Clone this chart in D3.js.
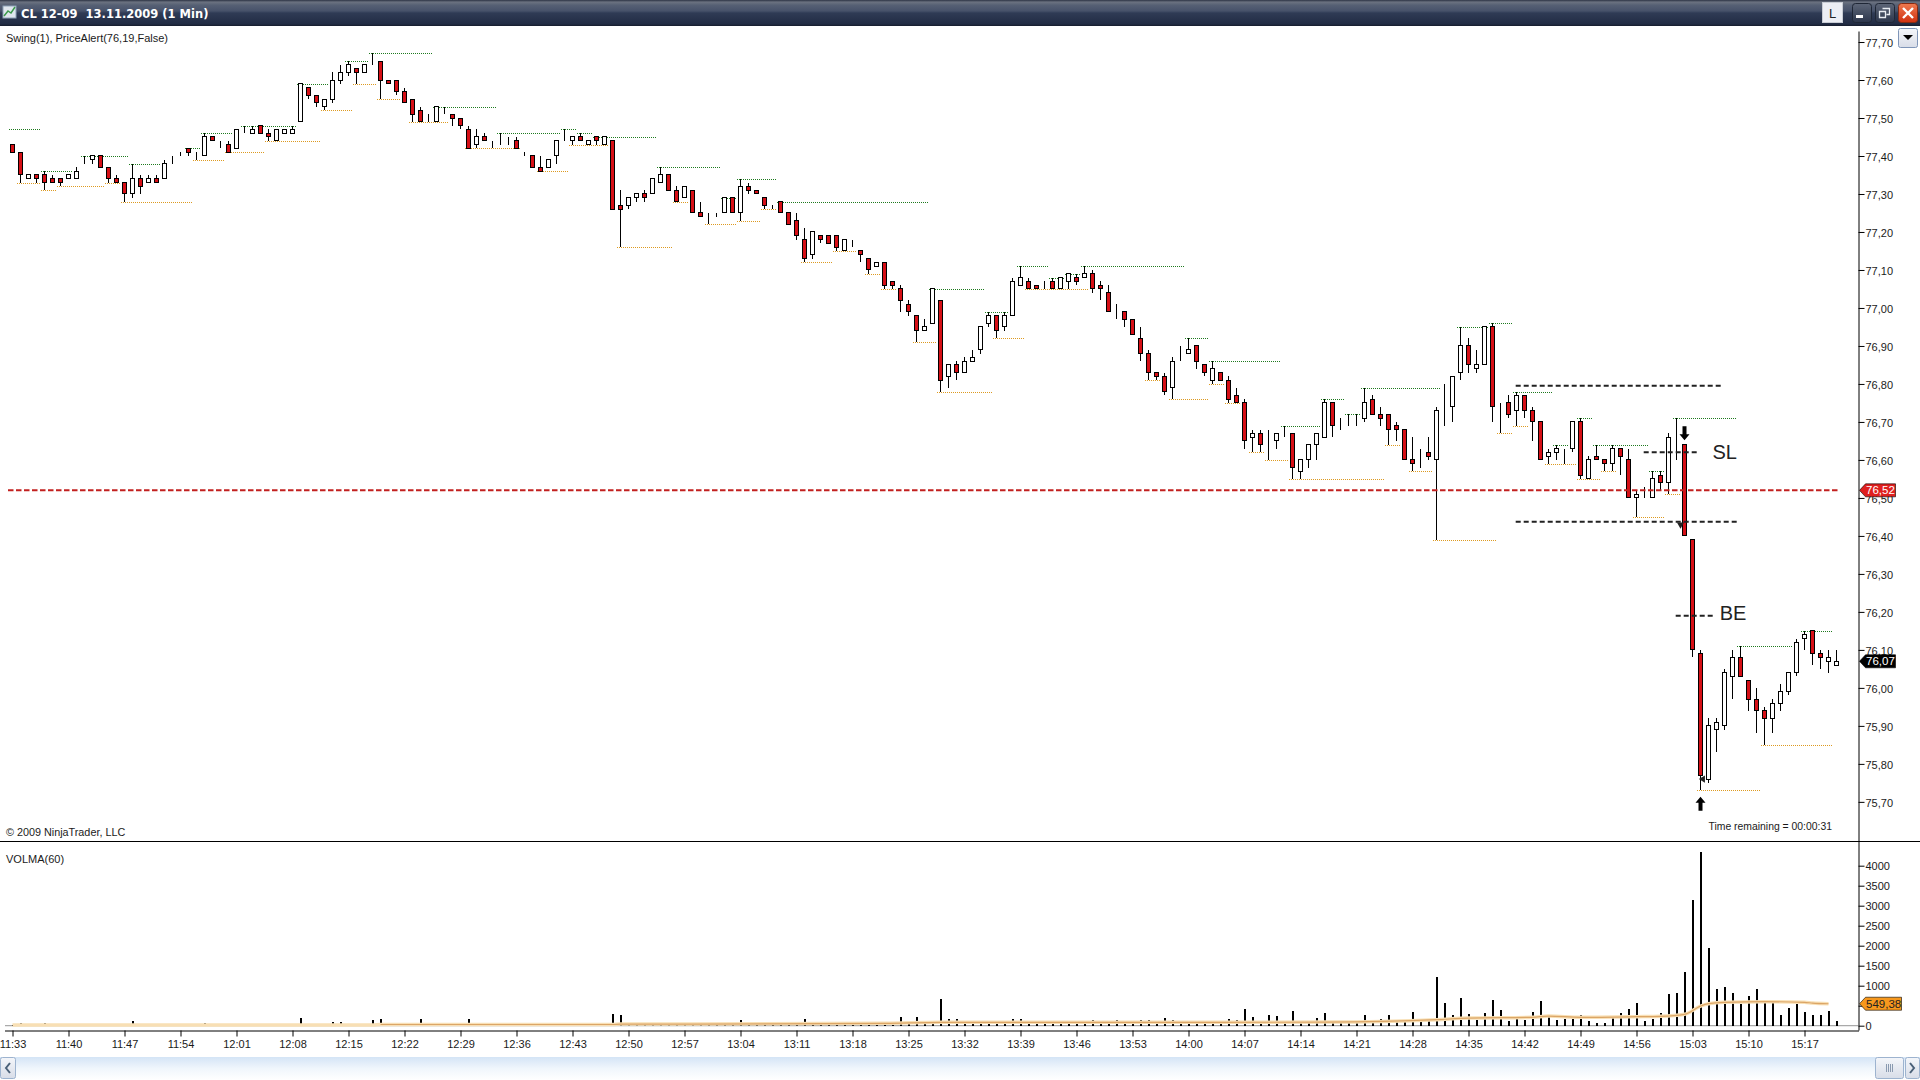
<!DOCTYPE html>
<html lang="en">
<head>
  <meta charset="UTF-8">
  <title>CL 12-09 1 Min</title>
  <script src="https://d3js.org/d3.v7.min.js"></script>
  <style>
    html, body { margin: 0; padding: 0; background: #fff; overflow: hidden; }
    svg { display: block; }
    text { font-family: "Liberation Sans", Arial, sans-serif; }
    .axis text { font-size: 11px; fill: #1a1a1a; font-family: "Liberation Sans", Arial, sans-serif; }
    .axis path, .axis line { stroke: #000; }
  </style>
</head>
<body>
<svg id="chart" width="1920" height="1080"></svg>
<script>
  const tickLabels = ["11:33","11:40","11:47","11:54","12:01","12:08","12:15","12:22","12:29","12:36","12:43","12:50","12:57","13:04","13:11","13:18","13:25","13:32","13:39","13:46","13:53","14:00","14:07","14:14","14:21","14:28","14:35","14:42","14:49","14:56","15:03","15:10","15:17"];
  const priceTicks = [77.7,77.6,77.5,77.4,77.3,77.2,77.1,77.0,76.9,76.8,76.7,76.6,76.5,76.4,76.3,76.2,76.1,76.0,75.9,75.8,75.7];
  const volumeTicks = [0,500,1000,1500,2000,2500,3000,3500,4000];

  const opens = [
    77.43,77.41,77.34,77.35,77.35,77.34,77.34,77.34,77.34,77.38,
    77.39,77.40,77.37,77.34,77.33,77.30,77.34,77.33,77.34,77.34,
    77.39,77.41,77.42,77.41,77.40,77.45,77.43,77.43,77.42,77.46,
    77.46,77.48,77.46,77.44,77.46,77.46,77.49,77.58,77.56,77.53,
    77.55,77.60,77.62,77.63,77.62,77.65,77.65,77.60,77.60,77.57,
    77.55,77.52,77.49,77.49,77.52,77.51,77.50,77.47,77.43,77.45,
    77.43,77.45,77.44,77.44,77.41,77.40,77.37,77.37,77.40,77.45,
    77.44,77.45,77.43,77.45,77.43,77.44,77.27,77.27,77.29,77.30,
    77.30,77.33,77.35,77.31,77.29,77.31,77.25,77.24,77.24,77.25,
    77.29,77.25,77.32,77.31,77.29,77.27,77.28,77.25,77.23,77.18,
    77.14,77.19,77.19,77.19,77.15,77.17,77.15,77.13,77.11,77.12,
    77.07,77.05,77.01,76.98,76.94,76.96,77.02,76.82,76.85,76.83,
    76.86,76.89,76.96,76.98,76.95,76.98,77.06,77.07,77.06,77.05,
    77.07,77.05,77.07,77.08,77.08,77.09,77.06,77.04,76.99,76.99,
    76.97,76.92,76.88,76.83,76.82,76.79,76.87,76.88,76.90,76.85,
    76.81,76.83,76.81,76.77,76.75,76.66,76.67,76.65,76.65,76.67,
    76.67,76.57,76.60,76.64,76.66,76.75,76.68,76.70,76.70,76.71,
    76.76,76.72,76.72,76.69,76.68,76.60,76.60,76.62,76.60,76.73,
    76.74,76.83,76.90,76.84,76.85,76.95,76.74,76.75,76.73,76.77,
    76.73,76.70,76.61,76.62,76.63,76.63,76.70,76.55,76.61,76.60,
    76.59,76.63,76.60,76.50,76.51,76.50,76.56,76.54,76.64,76.64,
    76.39,76.09,75.76,75.89,75.90,76.03,76.08,76.02,75.97,75.94,
    75.92,75.96,75.99,76.04,76.13,76.15,76.09,76.07,76.06
  ];
  const closes = [
    77.41,77.35,77.35,77.34,77.33,77.33,77.33,77.35,77.36,77.38,
    77.40,77.37,77.34,77.33,77.30,77.34,77.32,77.34,77.33,77.38,
    77.39,77.41,77.41,77.41,77.45,77.44,77.43,77.41,77.47,77.46,
    77.47,77.46,77.45,77.47,77.47,77.47,77.59,77.56,77.54,77.55,
    77.60,77.62,77.64,77.62,77.64,77.65,77.60,77.59,77.57,77.54,
    77.51,77.49,77.49,77.53,77.52,77.50,77.48,77.42,77.45,77.44,
    77.43,77.45,77.44,77.42,77.41,77.37,77.36,77.39,77.44,77.45,
    77.45,77.44,77.44,77.44,77.45,77.26,77.26,77.29,77.30,77.29,
    77.34,77.35,77.31,77.28,77.32,77.25,77.24,77.24,77.24,77.29,
    77.25,77.32,77.31,77.30,77.27,77.27,77.25,77.22,77.19,77.13,
    77.20,77.18,77.17,77.16,77.18,77.17,77.14,77.10,77.12,77.06,
    77.06,77.02,76.99,76.94,76.95,77.05,76.81,76.85,76.83,76.86,
    76.87,76.95,76.98,76.94,76.98,77.07,77.08,77.05,77.05,77.05,
    77.05,77.08,77.09,77.07,77.09,77.05,77.05,76.99,76.99,76.97,
    76.93,76.88,76.83,76.82,76.78,76.86,76.87,76.89,76.86,76.83,
    76.84,76.81,76.76,76.75,76.65,76.67,76.64,76.65,76.67,76.67,
    76.58,76.60,76.64,76.67,76.75,76.69,76.68,76.70,76.70,76.75,
    76.72,76.71,76.68,76.68,76.60,76.59,76.60,76.61,76.73,76.73,
    76.82,76.90,76.85,76.85,76.95,76.74,76.74,76.72,76.77,76.73,
    76.70,76.60,76.62,76.63,76.63,76.70,76.56,76.60,76.60,76.59,
    76.63,76.61,76.50,76.51,76.51,76.55,76.54,76.66,76.64,76.40,
    76.10,75.77,75.90,75.91,76.04,76.08,76.03,75.97,75.94,75.92,
    75.96,75.99,76.04,76.12,76.14,76.09,76.08,76.08,76.07
  ];
  const highs = [
    77.43,77.41,77.35,77.35,77.36,77.35,77.34,77.35,77.37,77.40,
    77.40,77.40,77.37,77.35,77.33,77.38,77.35,77.35,77.35,77.39,
    77.40,77.41,77.42,77.41,77.46,77.45,77.44,77.44,77.47,77.48,
    77.48,77.48,77.47,77.47,77.47,77.48,77.59,77.58,77.56,77.55,
    77.62,77.64,77.65,77.63,77.64,77.67,77.65,77.60,77.60,77.58,
    77.55,77.53,77.51,77.53,77.53,77.51,77.50,77.48,77.47,77.46,
    77.44,77.46,77.45,77.45,77.41,77.40,77.40,77.39,77.44,77.47,
    77.45,77.46,77.44,77.45,77.45,77.44,77.31,77.29,77.30,77.31,
    77.34,77.37,77.35,77.32,77.32,77.31,77.28,77.25,77.25,77.29,
    77.29,77.34,77.33,77.31,77.29,77.27,77.28,77.25,77.25,77.21,
    77.20,77.19,77.19,77.19,77.18,77.18,77.15,77.13,77.12,77.12,
    77.07,77.06,77.02,76.98,76.97,77.05,77.02,76.85,76.86,76.87,
    76.89,76.95,76.99,76.98,76.99,77.08,77.11,77.08,77.06,77.07,
    77.08,77.08,77.09,77.09,77.11,77.10,77.07,77.06,77.01,76.99,
    76.97,76.95,76.89,76.83,76.83,76.87,76.90,76.92,76.90,76.85,
    76.86,76.83,76.82,76.79,76.76,76.68,76.68,76.68,76.67,76.69,
    76.67,76.60,76.64,76.67,76.76,76.75,76.71,76.72,76.72,76.79,
    76.77,76.74,76.72,76.70,76.68,76.66,76.63,76.66,76.74,76.80,
    76.82,76.95,76.92,76.89,76.95,76.96,76.75,76.77,76.78,76.77,
    76.74,76.70,76.63,76.64,76.63,76.70,76.71,76.61,76.64,76.60,
    76.64,76.63,76.63,76.52,76.53,76.57,76.57,76.67,76.71,76.64,
    76.39,76.10,75.92,75.92,76.05,76.10,76.11,76.02,76.00,75.95,
    75.97,76.01,76.04,76.13,76.15,76.15,76.10,76.10,76.10
  ];
  const lows = [
    77.41,77.33,77.34,77.33,77.31,77.33,77.32,77.34,77.34,77.38,
    77.38,77.37,77.33,77.33,77.28,77.29,77.30,77.33,77.33,77.34,
    77.38,77.40,77.40,77.39,77.40,77.44,77.42,77.41,77.42,77.46,
    77.46,77.46,77.44,77.44,77.46,77.46,77.49,77.55,77.53,77.52,
    77.54,77.59,77.61,77.59,77.62,77.64,77.55,77.59,77.56,77.54,
    77.49,77.49,77.49,77.49,77.51,77.48,77.47,77.42,77.42,77.44,
    77.42,77.43,77.43,77.42,77.40,77.37,77.36,77.37,77.38,77.44,
    77.43,77.44,77.43,77.43,77.43,77.26,77.16,77.26,77.28,77.28,
    77.30,77.33,77.31,77.28,77.29,77.25,77.24,77.22,77.24,77.25,
    77.25,77.23,77.30,77.30,77.26,77.26,77.25,77.22,77.18,77.12,
    77.13,77.17,77.17,77.15,77.15,77.16,77.12,77.09,77.11,77.05,
    77.05,76.99,76.98,76.91,76.94,76.96,76.78,76.79,76.81,76.83,
    76.86,76.88,76.95,76.92,76.94,76.98,77.06,77.05,77.05,77.05,
    77.05,77.05,77.05,77.06,77.08,77.04,77.02,76.99,76.97,76.95,
    76.93,76.86,76.81,76.81,76.77,76.76,76.86,76.88,76.84,76.82,
    76.80,76.81,76.75,76.75,76.63,76.62,76.62,76.60,76.63,76.66,
    76.55,76.55,76.58,76.60,76.66,76.66,76.68,76.69,76.69,76.70,
    76.72,76.69,76.64,76.65,76.60,76.57,76.58,76.60,76.39,76.69,
    76.70,76.81,76.83,76.83,76.85,76.70,76.67,76.71,76.69,76.71,
    76.65,76.60,76.59,76.60,76.59,76.62,76.55,76.55,76.60,76.57,
    76.57,76.56,76.50,76.45,76.50,76.50,76.52,76.51,76.60,76.40,
    76.08,75.73,75.75,75.83,75.89,75.97,76.03,75.94,75.88,75.85,
    75.88,75.94,75.98,76.03,76.10,76.06,76.05,76.04,76.06
  ];
  const volumes = [
    15,70,10,10,70,10,10,10,10,10,
    10,10,40,10,40,120,10,40,10,40,
    10,10,10,10,70,10,10,10,40,10,
    10,10,10,10,10,10,190,40,40,10,
    90,90,40,40,10,140,170,30,10,10,
    70,170,20,30,20,40,70,170,30,10,
    10,30,30,30,30,30,30,10,30,30,
    10,30,10,10,10,290,270,30,30,30,
    70,30,10,30,30,30,30,30,30,30,
    30,140,30,10,30,10,30,30,90,170,
    90,10,10,10,30,10,30,30,10,30,
    30,220,60,220,60,100,670,170,170,60,
    90,90,90,90,60,170,170,90,60,50,
    50,50,50,50,90,140,90,90,140,90,
    90,140,140,90,190,140,50,90,90,50,
    50,90,170,140,415,215,90,265,240,90,
    365,110,110,190,320,100,60,100,100,265,
    100,165,265,100,140,340,165,115,1215,565,
    265,690,290,140,315,640,390,115,165,140,
    340,615,215,140,165,165,265,115,65,65,
    190,315,415,565,115,165,315,790,815,1340,
    3140,4340,1940,915,965,815,540,740,915,590,
    565,265,440,540,340,265,265,365,115
  ];
  const maBars = [0,45,46,60,75,76,85,109,116,150,164,178,182,190,192,196,203,206,209,211,212,214,219,224,225,227];
  const maValues = [15,15,30,30,30,40,40,60,85,85,90,150,190,210,240,210,225,235,285,490,550,585,600,585,565,549];

  // swing lines: first bar, last bar, price
  const swingHighs = [
    [-1,3,77.47],[3,7,77.36],[8,14,77.40],[14,18,77.38],[21,23,77.42],[23,27,77.46],[28,35,77.48],[35,39,77.59],
    [41,44,77.65],[44,52,77.67],[52,60,77.53],[60,68,77.46],[68,70,77.47],[70,72,77.46],[72,80,77.45],[80,88,77.37],
    [88,90,77.29],[90,95,77.34],[95,114,77.28],[114,121,77.05],[121,124,76.99],[125,129,77.11],[129,131,77.08],
    [131,133,77.09],[133,146,77.11],[146,149,76.92],[149,158,76.86],[158,163,76.69],[163,166,76.76],[166,168,76.72],
    [168,178,76.79],[180,184,76.95],[184,187,76.96],[187,192,76.78],[192,194,76.64],[195,197,76.71],[197,204,76.64],
    [204,206,76.57],[207,215,76.71],[215,222,76.11],[223,227,76.15]
  ];
  const swingLows = [
    [0,3,77.33],[3,5,77.31],[5,11,77.32],[11,13,77.33],[13,22,77.28],[22,26,77.39],[26,31,77.41],[31,38,77.44],
    [38,42,77.52],[42,45,77.59],[45,48,77.55],[49,54,77.49],[56,63,77.42],[65,69,77.36],[69,74,77.43],[75,82,77.16],
    [82,84,77.28],[86,90,77.22],[90,93,77.23],[93,95,77.26],[98,102,77.12],[102,105,77.15],[106,108,77.09],
    [108,110,77.05],[112,115,76.91],[115,122,76.78],[122,126,76.92],[126,134,77.05],[141,143,76.81],[144,149,76.76],
    [149,151,76.80],[151,153,76.75],[154,156,76.62],[156,159,76.60],[159,171,76.55],[171,173,76.64],[174,177,76.57],
    [177,185,76.39],[185,187,76.67],[187,189,76.69],[191,195,76.59],[195,198,76.55],[198,200,76.57],[202,206,76.45],
    [206,208,76.51],[210,218,75.73],[218,227,75.85]
  ];
  const alertPrice = 76.52;
  const lastPrice = 76.07;
  const lastVolma = 549.38;

  // hand drawn levels: first bar, last bar, price
  const drawnLevels = [[187.9,213.8,76.795],[187.9,215.8,76.437],[203.9,210.8,76.62],[207.9,212.8,76.19]];
  const drawnLabels = [["SL",212.5,76.62],["BE",213.4,76.196]];
  const arrowBars = [209,211];
  const arrowPrices = [76.67,75.695];
  const arrowDirs = [1,-1];

  const svg = d3.select("#chart");
  const defs = svg.append("defs");

  function gradient(id, stops) {
    const g = defs.append("linearGradient").attr("id", id).attr("x1", 0).attr("y1", 0).attr("x2", 0).attr("y2", 1);
    stops.forEach(s => g.append("stop").attr("offset", s[0]).attr("stop-color", s[1]));
  }
  gradient("titleGrad", [[0,"#2c3344"],[0.08,"#6b7280"],[0.2,"#566074"],[0.42,"#47526a"],[0.5,"#2f3b55"],[0.92,"#222c44"],[1,"#161c2c"]]);
  gradient("scrollGrad", [[0,"#d4e4f6"],[0.5,"#f0f6fc"],[1,"#ffffff"]]);
  gradient("btnGrad", [[0,"#5d6678"],[1,"#2c364c"]]);
  gradient("closeGrad", [[0,"#ef7a50"],[1,"#d0300f"]]);
  gradient("greyBtn", [[0,"#f4f6fa"],[1,"#d8dde8"]]);

  // Scales
  const x = d3.scaleLinear().domain([-1, 230.75]).range([4.5, 1858.5]);
  const y = d3.scaleLinear().domain([77.729, 75.597]).range([31, 841]);
  const yVol = d3.scaleLinear().domain([4617.5, -107.5]).range([841, 1030]);

  // Title bar
  svg.append("rect").attr("width", 1920).attr("height", 26).attr("fill", "url(#titleGrad)");
  svg.append("rect").attr("x", 3).attr("y", 6).attr("width", 13).attr("height", 12).attr("fill", "#dfe6ee").attr("stroke", "#8fa3b8");
  svg.append("path").attr("d", "M4,16 L8,11 L11,13 L15,7").attr("fill", "none").attr("stroke", "#3a9a4a").attr("stroke-width", 1.5);
  svg.append("text").attr("x", 21).attr("y", 18).attr("fill", "#fff")
    .style("font-family", "'DejaVu Sans'").style("font-weight", "bold").style("font-size", "11.5px")
    .attr("xml:space", "preserve").text("CL 12-09  13.11.2009 (1 Min)");

  svg.append("rect").attr("x", 1822.5).attr("y", 2.5).attr("width", 20).attr("height", 20).attr("fill", "#eceef4").attr("stroke", "#c8ccd4");
  svg.append("text").attr("x", 1832.5).attr("y", 18).attr("text-anchor", "middle").attr("fill", "#222").style("font-size", "13px").text("L");
  [1852, 1875].forEach(bx => svg.append("rect").attr("x", bx + 0.5).attr("y", 3.5).attr("width", 19).attr("height", 19).attr("rx", 3).attr("fill", "url(#btnGrad)").attr("stroke", "#1f2736"));
  svg.append("rect").attr("x", 1856).attr("y", 15).attr("width", 7).attr("height", 3).attr("fill", "#fff");
  svg.append("path").attr("d", "M1882.5,8.5 h7 v6 h-3 M1879.5,11.5 h6 v6 h-6 z").attr("fill", "none").attr("stroke", "#e8ecf2").attr("stroke-width", 1.3);
  svg.append("rect").attr("x", 1898.5).attr("y", 3.5).attr("width", 19).attr("height", 19).attr("rx", 3).attr("fill", "url(#closeGrad)").attr("stroke", "#8a2a10");
  svg.append("path").attr("d", "M1903,8 L1913,18 M1913,8 L1903,18").attr("stroke", "#fff").attr("stroke-width", 2.4);
  svg.append("rect").attr("x", 1898.5).attr("y", 28.5).attr("width", 19).attr("height", 19).attr("rx", 2).attr("fill", "url(#greyBtn)").attr("stroke", "#7f95b8");
  svg.append("path").attr("d", "M1903,35 h10 l-5,5 z").attr("fill", "#000");

  // Swing lines
  const swing = svg.append("g").attr("shape-rendering", "crispEdges");
  function swingLines(rows, colour) {
    swing.selectAll(null)
      .data(rows)
      .enter().append("line")
      .attr("x1", d => x(d[0] + 0.6))
      .attr("x2", d => x(d[1] + 0.5))
      .attr("y1", d => Math.round(y(d[2])) + 0.5)
      .attr("y2", d => Math.round(y(d[2])) + 0.5)
      .attr("stroke", colour)
      .attr("stroke-dasharray", "1 1");
  }
  swingLines(swingHighs, "#1f7a1f");
  swingLines(swingLows, "#dd9a20");

  // Candles
  const candles = svg.append("g").attr("shape-rendering", "crispEdges");
  candles.selectAll("line.wick")
    .data(opens)
    .enter().append("line")
    .attr("class", "wick")
    .attr("x1", (d, i) => x(i))
    .attr("x2", (d, i) => x(i))
    .attr("y1", (d, i) => y(highs[i]))
    .attr("y2", (d, i) => y(lows[i]))
    .attr("stroke", "#000");
  candles.selectAll("rect.body")
    .data(opens)
    .enter().append("rect")
    .attr("class", "body")
    .attr("x", (d, i) => x(i) - 2)
    .attr("width", 4)
    .attr("y", (d, i) => y(Math.max(d, closes[i])))
    .attr("height", (d, i) => Math.abs(y(d) - y(closes[i])))
    .attr("fill", (d, i) => closes[i] < d ? "#d60f16" : "#fff")
    .attr("stroke", "#000");

  // Alert line
  svg.append("line")
    .attr("x1", 8).attr("x2", 1839)
    .attr("y1", y(alertPrice)).attr("y2", y(alertPrice))
    .attr("stroke", "#c2201f").attr("stroke-width", 2).attr("stroke-dasharray", "5.5 2.5");

  // Hand drawn levels and notes
  svg.selectAll("line.level")
    .data(drawnLevels)
    .enter().append("line")
    .attr("class", "level")
    .attr("x1", d => x(d[0]))
    .attr("x2", d => x(d[1]))
    .attr("y1", d => y(d[2]))
    .attr("y2", d => y(d[2]))
    .attr("stroke", "#222").attr("stroke-width", 2).attr("stroke-dasharray", "5 3");
  svg.selectAll("text.note")
    .data(drawnLabels)
    .enter().append("text")
    .attr("class", "note")
    .attr("x", d => x(d[1]))
    .attr("y", d => y(d[2]) + 7)
    .attr("fill", "#222")
    .style("font-size", "20px")
    .text(d => d[0]);
  svg.selectAll("path.arrow")
    .data(arrowBars)
    .enter().append("path")
    .attr("class", "arrow")
    .attr("d", "M-2,-7 h4 v8 h3 l-5,6 l-5,-6 h3 z")
    .attr("transform", (d, i) => `translate(${x(d)},${y(arrowPrices[i])}) scale(1,${arrowDirs[i]})`)
    .attr("fill", "#000");
  svg.append("path").attr("d", d3.symbol(d3.symbolTriangle, 22))
    .attr("transform", `translate(${x(211.3)},${y(75.76)}) rotate(-90)`).attr("fill", "#222");
  svg.append("path").attr("d", d3.symbol(d3.symbolTriangle, 22))
    .attr("transform", `translate(${x(208.5)},${y(76.43)}) rotate(180)`).attr("fill", "#222");

  // Price axis
  const priceFmt = d => d.toFixed(2).replace(".", ",");
  const priceAxis = svg.append("g").attr("class", "axis").attr("transform", "translate(1858.5,0)")
    .call(d3.axisRight(y).tickValues(priceTicks).tickFormat(priceFmt).tickSize(6).tickPadding(1).tickSizeOuter(0));
  priceAxis.selectAll("text").attr("dy", "0.4em");

  // Pane separator
  svg.append("line").attr("x1", 0).attr("x2", 1920).attr("y1", 841.5).attr("y2", 841.5).attr("stroke", "#000");

  // Volume pane
  svg.append("line").attr("x1", 5).attr("x2", 1858).attr("y1", yVol(0)).attr("y2", yVol(0)).attr("stroke", "#aaa").attr("stroke-width", 1.2);
  svg.append("g").attr("shape-rendering", "crispEdges").selectAll("rect")
    .data(volumes)
    .enter().append("rect")
    .attr("x", (d, i) => x(i) - 1)
    .attr("width", 2)
    .attr("y", d => yVol(d))
    .attr("height", d => yVol(0) - yVol(d))
    .attr("fill", "#000");

  const maLine = d3.line().x(d => x(d)).y((d, i) => yVol(maValues[i])).curve(d3.curveMonotoneX);
  svg.append("path").attr("d", maLine(maBars)).attr("fill", "none").attr("stroke", "#f8dfb4").attr("stroke-width", 3.5);
  const maMain = d3.line().x(d => x(d)).y(d => yVol(maValues[maBars.indexOf(d)])).curve(d3.curveMonotoneX);
  svg.append("path").attr("d", maMain(maBars.slice(2))).attr("fill", "none").attr("stroke", "#dba566").attr("stroke-width", 1.2);

  svg.append("g").attr("class", "axis").attr("transform", "translate(1858.5,0)")
    .call(d3.axisRight(yVol).tickValues(volumeTicks).tickFormat(d3.format("d")).tickSize(6).tickPadding(1).tickSizeOuter(0));

  // Time axis
  svg.append("g").attr("class", "axis").attr("transform", "translate(0,1030.5)")
    .call(d3.axisBottom(x).tickValues(tickLabels.map((d, i) => i * 7)).tickFormat((d, i) => tickLabels[i]).tickSize(6).tickPadding(4).tickSizeOuter(0));

  // Value tags
  function tag(py, w, colour, label, textColour) {
    svg.append("path")
      .attr("d", `M1859.5,${py} l6,-6.5 h${w} v13 h-${w} z`)
      .attr("fill", colour).attr("stroke", "#000").attr("stroke-width", 0.6);
    svg.append("text").attr("x", 1866).attr("y", py + 4).attr("fill", textColour).style("font-size", "11.5px").text(label);
  }
  tag(y(alertPrice), 30, "#e0201f", priceFmt(alertPrice), "#fff");
  tag(y(lastPrice), 30, "#000", priceFmt(lastPrice), "#fff");
  tag(yVol(lastVolma), 36, "#f7981d", lastVolma.toFixed(2).replace(".", ","), "#222");

  // Corner notes
  const note = (tx, ty, s, anchor, size) => svg.append("text").attr("x", tx).attr("y", ty).attr("fill", "#1a1a1a")
    .attr("text-anchor", anchor || "start").style("font-size", (size || 11) + "px").text(s);
  note(6, 42, "Swing(1), PriceAlert(76,19,False)");
  note(6, 836, "© 2009 NinjaTrader, LLC", "start", 10.8);
  note(6, 863, "VOLMA(60)");
  note(1832, 830, "Time remaining = 00:00:31", "end", 10.4);

  // Scrollbar
  svg.append("rect").attr("y", 1057).attr("width", 1920).attr("height", 23).attr("fill", "url(#scrollGrad)");
  svg.append("rect").attr("x", 0.5).attr("y", 1057.5).attr("width", 15).attr("height", 21).attr("rx", 2).attr("fill", "url(#greyBtn)").attr("stroke", "#9db3cf");
  svg.append("path").attr("d", "M10,1063 L6,1068 L10,1073").attr("fill", "none").attr("stroke", "#4a6078").attr("stroke-width", 2);
  svg.append("rect").attr("x", 1875.5).attr("y", 1057.5).attr("width", 28).attr("height", 21).attr("rx", 2).attr("fill", "url(#greyBtn)").attr("stroke", "#9db3cf");
  svg.append("path").attr("d", "M1886.5,1064 v8 M1888.5,1064 v8 M1890.5,1064 v8 M1892.5,1064 v8").attr("stroke", "#8a9ab0");
  svg.append("rect").attr("x", 1905.5).attr("y", 1057.5).attr("width", 14).attr("height", 21).attr("rx", 2).attr("fill", "url(#greyBtn)").attr("stroke", "#9db3cf");
  svg.append("path").attr("d", "M1910,1063 L1914,1068 L1910,1073").attr("fill", "none").attr("stroke", "#4a6078").attr("stroke-width", 2);
</script>
</body>
</html>
